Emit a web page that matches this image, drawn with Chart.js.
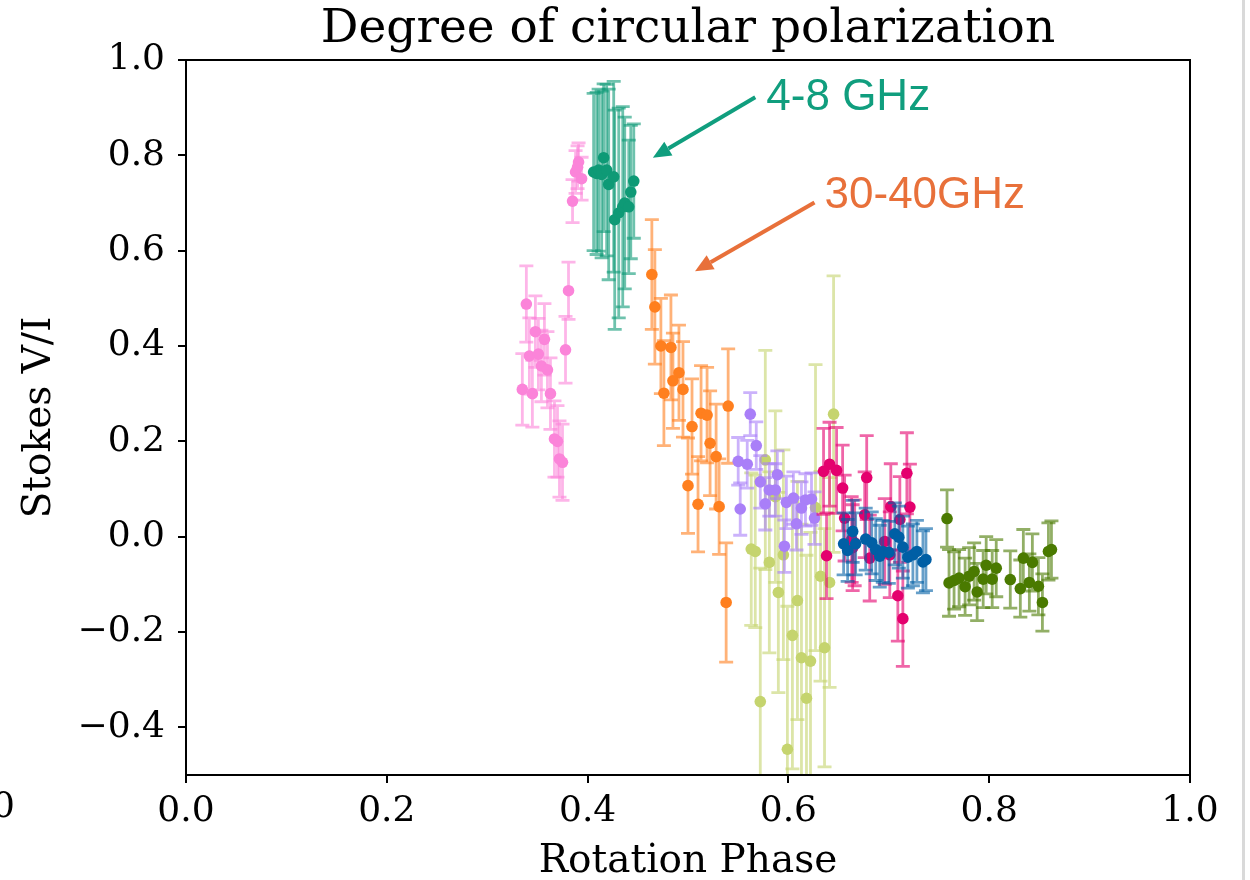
<!DOCTYPE html>
<html lang="en">
<head>
<meta charset="utf-8">
<title>Degree of circular polarization</title>
<script src="https://cdn.jsdelivr.net/npm/chart.js@4.4.0/dist/chart.umd.min.js"></script>
<style>
  html, body { margin: 0; padding: 0; background: #fff; }
</style>
</head>
<body>
<canvas id="myChart" width="1250" height="880"></canvas>
<script>
// axis ticks
const xTicks = [0.0, 0.2, 0.4, 0.6, 0.8, 1.0];
const yTicks = [-0.4, -0.2, 0.0, 0.2, 0.4, 0.6, 0.8, 1.0];

// pink
const pinkPhase = [0.339, 0.381, 0.348, 0.357, 0.342, 0.351, 0.378, 0.354, 0.360, 0.335, 0.345, 0.363, 0.367, 0.370, 0.372, 0.375, 0.385, 0.388, 0.391, 0.394, 0.390];
const pinkVI    = [0.488, 0.516, 0.430, 0.414, 0.379, 0.383, 0.392, 0.358, 0.350, 0.309, 0.300, 0.300, 0.205, 0.200, 0.163, 0.156, 0.704, 0.765, 0.786, 0.751, 0.775];
const pinkErr   = [0.080, 0.060, 0.075, 0.075, 0.080, 0.075, 0.070, 0.075, 0.080, 0.075, 0.070, 0.075, 0.080, 0.075, 0.080, 0.080, 0.045, 0.045, 0.040, 0.045, 0.045];

// 4-8 GHz (teal)
const tealPhase = [0.406, 0.409, 0.411, 0.414, 0.416, 0.419, 0.421, 0.426, 0.427, 0.431, 0.435, 0.437, 0.441, 0.443, 0.446];
const tealVI    = [0.765, 0.762, 0.769, 0.760, 0.795, 0.769, 0.739, 0.755, 0.665, 0.679, 0.692, 0.700, 0.692, 0.723, 0.746];
const tealErr   = [0.165, 0.170, 0.170, 0.175, 0.155, 0.180, 0.200, 0.200, 0.230, 0.220, 0.210, 0.180, 0.140, 0.140, 0.120];

// 30-40 GHz (orange)
const orangePhase = [0.464, 0.467, 0.473, 0.483, 0.491, 0.485, 0.495, 0.476, 0.540, 0.513, 0.519, 0.504, 0.522, 0.528, 0.500, 0.510, 0.531, 0.538];
const orangeVI    = [0.550, 0.482, 0.400, 0.397, 0.344, 0.327, 0.309, 0.301, 0.274, 0.259, 0.255, 0.231, 0.196, 0.168, 0.107, 0.068, 0.063, -0.138];
const orangeErr   = [0.115, 0.120, 0.100, 0.110, 0.100, 0.100, 0.100, 0.110, 0.120, 0.100, 0.100, 0.100, 0.110, 0.110, 0.100, 0.100, 0.100, 0.125];

// yellow-green
const limePhase = [0.645, 0.577, 0.587, 0.627, 0.563, 0.567, 0.581, 0.595, 0.590, 0.609, 0.604, 0.613, 0.622, 0.618, 0.572, 0.599, 0.636, 0.632, 0.641];
const limeVI    = [0.257, 0.161, 0.084, 0.061, -0.026, -0.031, -0.054, -0.038, -0.117, -0.134, -0.207, -0.254, -0.261, -0.339, -0.346, -0.446, -0.233, -0.083, -0.096];
const limeErr   = [0.290, 0.230, 0.180, 0.300, 0.160, 0.160, 0.190, 0.220, 0.210, 0.250, 0.280, 0.280, 0.270, 0.300, 0.280, 0.300, 0.250, 0.220, 0.220];

// purple
const purplePhase = [0.562, 0.568, 0.550, 0.559, 0.589, 0.572, 0.581, 0.587, 0.577, 0.598, 0.605, 0.617, 0.623, 0.613, 0.552, 0.608, 0.626, 0.596];
const purpleVI    = [0.257, 0.191, 0.158, 0.152, 0.130, 0.115, 0.098, 0.098, 0.069, 0.072, 0.081, 0.077, 0.079, 0.060, 0.058, 0.027, 0.039, -0.020];
const purpleErr   = [0.045, 0.050, 0.050, 0.050, 0.050, 0.055, 0.055, 0.055, 0.055, 0.055, 0.055, 0.055, 0.055, 0.055, 0.055, 0.055, 0.055, 0.055];

// magenta
const magentaPhase = [0.641, 0.635, 0.648, 0.678, 0.718, 0.654, 0.721, 0.702, 0.676, 0.656, 0.711, 0.696, 0.663, 0.638, 0.666, 0.681, 0.709, 0.714, 0.701, 0.664];
const magentaVI    = [0.152, 0.137, 0.139, 0.124, 0.133, 0.102, 0.062, 0.063, 0.046, 0.039, 0.036, -0.010, -0.006, -0.040, -0.013, -0.045, -0.124, -0.172, -0.038, -0.023];
const magentaErr   = [0.088, 0.090, 0.090, 0.088, 0.085, 0.090, 0.090, 0.090, 0.090, 0.090, 0.090, 0.090, 0.090, 0.090, 0.090, 0.090, 0.095, 0.100, 0.090, 0.090];

// blue
const bluePhase = [0.664, 0.655, 0.659, 0.667, 0.677, 0.683, 0.687, 0.691, 0.694, 0.700, 0.706, 0.710, 0.714, 0.719, 0.724, 0.728, 0.734, 0.737];
const blueVI    = [0.011, -0.015, -0.029, -0.015, -0.005, -0.013, -0.027, -0.041, -0.031, -0.033, 0.006, -0.001, -0.022, -0.043, -0.038, -0.031, -0.053, -0.048];
const blueErr   = [0.065, 0.065, 0.065, 0.065, 0.065, 0.065, 0.065, 0.065, 0.065, 0.065, 0.065, 0.065, 0.065, 0.065, 0.065, 0.065, 0.065, 0.065];

// dark green
const greenPhase = [0.758, 0.760, 0.765, 0.770, 0.776, 0.780, 0.785, 0.788, 0.794, 0.797, 0.803, 0.807, 0.821, 0.831, 0.834, 0.840, 0.843, 0.849, 0.853, 0.859, 0.862];
const greenVI    = [0.038, -0.097, -0.092, -0.087, -0.105, -0.083, -0.073, -0.116, -0.089, -0.060, -0.089, -0.066, -0.090, -0.109, -0.045, -0.096, -0.054, -0.104, -0.138, -0.031, -0.027];
const greenErr   = [0.060, 0.070, 0.060, 0.060, 0.060, 0.060, 0.060, 0.060, 0.060, 0.060, 0.060, 0.060, 0.060, 0.060, 0.060, 0.060, 0.060, 0.060, 0.060, 0.060, 0.060];

const serif = '"DejaVu Serif", serif';

function makeSet(name, phase, vi, err, color, barColor, i) {
  return {
    label: name,
    data: phase.map((p, k) => ({x: p, y: vi[k], e: err[k]})),
    backgroundColor: color,
    borderWidth: 0,
    pointRadius: 5.8,
    pointHoverRadius: 5.8,
    barColor: barColor,
    order: -i
  };
}

const sets = [
  makeSet('pink', pinkPhase, pinkVI, pinkErr, '#fb84d9', 'rgba(251,132,217,0.6)', 0),
  makeSet('4-8 GHz', tealPhase, tealVI, tealErr, '#0e9a76', 'rgba(14,154,118,0.6)', 1),
  makeSet('30-40 GHz', orangePhase, orangeVI, orangeErr, '#ff7f1e', 'rgba(255,127,30,0.6)', 2),
  makeSet('lime', limePhase, limeVI, limeErr, '#c5d46e', 'rgba(197,212,110,0.6)', 3),
  makeSet('purple', purplePhase, purpleVI, purpleErr, '#a97ff8', 'rgba(169,127,248,0.6)', 4),
  makeSet('magenta', magentaPhase, magentaVI, magentaErr, '#e4006e', 'rgba(228,0,110,0.6)', 5),
  makeSet('blue', bluePhase, blueVI, blueErr, '#005fa5', 'rgba(0,95,165,0.6)', 6),
  makeSet('green', greenPhase, greenVI, greenErr, '#4a7a00', 'rgba(74,122,0,0.6)', 7)
];

// error bars drawn right before each dataset's points
const errorBars = {
  id: 'errorBars',
  beforeDatasetDraw(chart, args) {
    const ds = chart.data.datasets[args.index];
    const xs = chart.scales.x, ys = chart.scales.y;
    const a = chart.chartArea;
    const ctx = chart.ctx;
    ctx.save();
    ctx.beginPath();
    ctx.rect(a.left, a.top, a.right - a.left, a.bottom - a.top);
    ctx.clip();
    ctx.strokeStyle = ds.barColor;
    ctx.lineWidth = 2.8;
    ds.data.forEach(d => {
      const px = xs.getPixelForValue(d.x);
      const y1 = ys.getPixelForValue(d.y + d.e);
      const y2 = ys.getPixelForValue(d.y - d.e);
      ctx.beginPath();
      ctx.moveTo(px, y1); ctx.lineTo(px, y2);
      ctx.moveTo(px - 7, y1); ctx.lineTo(px + 7, y1);
      ctx.moveTo(px - 7, y2); ctx.lineTo(px + 7, y2);
      ctx.stroke();
    });
    ctx.restore();
  }
};

// frame, title, arrows and labels
const notes = [
  {text: '4-8 GHz', color: '#109e7e', tx: 0.578, ty: 0.896, ax0: 0.567, ay0: 0.922, ax1: 0.465, ay1: 0.795},
  {text: '30-40GHz', color: '#e8703a', tx: 0.636, ty: 0.690, ax0: 0.626, ay0: 0.701, ax1: 0.507, ay1: 0.557}
];

const decor = {
  id: 'decor',
  afterDraw(chart) {
    const ctx = chart.ctx;
    const a = chart.chartArea;
    const xs = chart.scales.x, ys = chart.scales.y;
    ctx.save();
    ctx.strokeStyle = '#000';
    ctx.lineWidth = 2;
    ctx.strokeRect(a.left, a.top, a.right - a.left, a.bottom - a.top);

    ctx.fillStyle = '#000';
    ctx.font = '47px ' + serif;
    ctx.textAlign = 'center';
    ctx.textBaseline = 'alphabetic';
    ctx.fillText('Degree of circular polarization', (a.left + a.right) / 2, 42);

    // cut-off tick label of the neighbouring panel
    ctx.font = '36px ' + serif;
    ctx.textAlign = 'right';
    ctx.textBaseline = 'top';
    ctx.fillText('1.0', 15, 790);

    notes.forEach(n => {
      const x0 = xs.getPixelForValue(n.ax0), y0 = ys.getPixelForValue(n.ay0);
      const x1 = xs.getPixelForValue(n.ax1), y1 = ys.getPixelForValue(n.ay1);
      const ang = Math.atan2(y1 - y0, x1 - x0);
      const hl = 18, hw = 8;
      const bx = x1 - hl * Math.cos(ang), by = y1 - hl * Math.sin(ang);
      ctx.strokeStyle = n.color;
      ctx.fillStyle = n.color;
      ctx.lineWidth = 4;
      ctx.beginPath();
      ctx.moveTo(x0, y0); ctx.lineTo(bx, by);
      ctx.stroke();
      ctx.beginPath();
      ctx.moveTo(x1, y1);
      ctx.lineTo(bx + hw * Math.sin(ang), by - hw * Math.cos(ang));
      ctx.lineTo(bx - hw * Math.sin(ang), by + hw * Math.cos(ang));
      ctx.closePath();
      ctx.fill();
      ctx.font = '44px "Liberation Sans", Arial, sans-serif';
      ctx.textAlign = 'left';
      ctx.textBaseline = 'alphabetic';
      ctx.fillText(n.text, xs.getPixelForValue(n.tx), ys.getPixelForValue(n.ty));
    });

    // screenshot edge
    ctx.fillStyle = '#d9d9d9';
    ctx.fillRect(1242, 0, 3, 880);
    ctx.restore();
  }
};

const fmt = v => (v < 0 ? '\u2212' : '') + Math.abs(v).toFixed(1);

new Chart(document.getElementById('myChart'), {
  type: 'scatter',
  data: {datasets: sets},
  options: {
    responsive: false,
    animation: false,
    events: [],
    layout: {padding: {top: 60, right: 60, left: 0, bottom: 0}},
    plugins: {legend: {display: false}, tooltip: {enabled: false}, title: {display: false}},
    scales: {
      x: {
        type: 'linear', min: 0, max: 1,
        afterBuildTicks: s => { s.ticks = xTicks.map(v => ({value: v})); },
        afterFit: s => { s.height = 105; },
        border: {display: false},
        grid: {display: true, drawOnChartArea: false, drawTicks: true, tickLength: 8, color: '#000', lineWidth: 2},
        ticks: {callback: fmt, color: '#000', padding: 7, maxRotation: 0, font: {family: serif, size: 36}},
        title: {display: true, text: 'Rotation Phase', color: '#000', padding: {top: 0, bottom: -5}, font: {family: serif, size: 39}}
      },
      y: {
        type: 'linear', min: -0.5, max: 1.0,
        afterBuildTicks: s => { s.ticks = yTicks.map(v => ({value: v})); },
        afterFit: s => { s.width = 186; },
        border: {display: false},
        grid: {display: true, drawOnChartArea: false, drawTicks: true, tickLength: 8, color: '#000', lineWidth: 2},
        ticks: {callback: fmt, color: '#000', padding: 13, font: {family: serif, size: 36}},
        title: {display: true, text: 'Stokes V/I', color: '#000', padding: {top: 16, bottom: 0}, font: {family: serif, size: 39}}
      }
    }
  },
  plugins: [errorBars, decor]
});
</script>
</body>
</html>
